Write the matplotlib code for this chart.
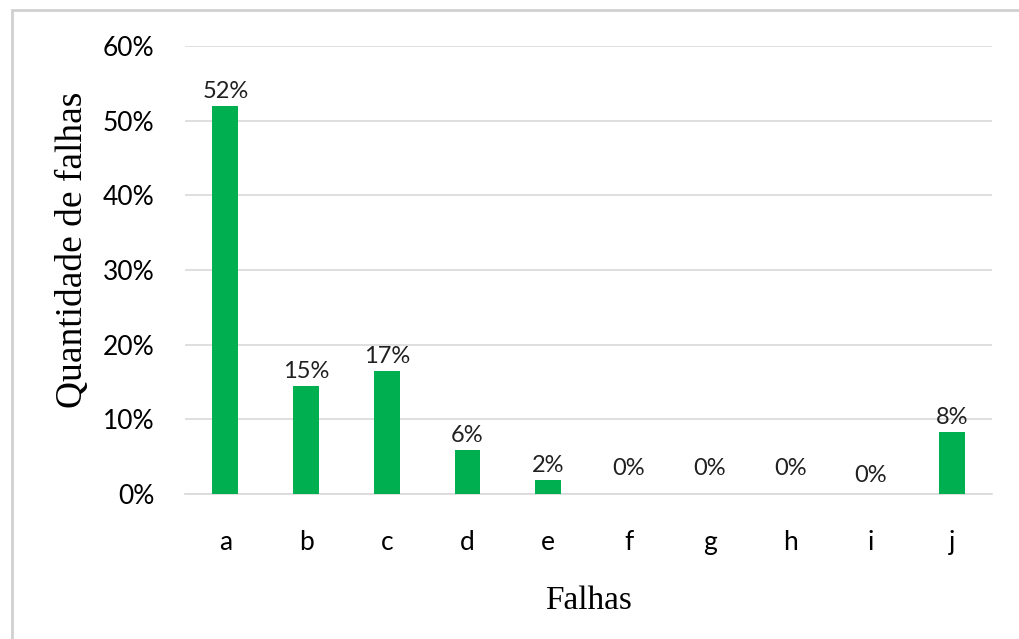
import matplotlib
matplotlib.use("Agg")
import matplotlib.pyplot as plt
from matplotlib.patches import Rectangle
from matplotlib.ticker import FuncFormatter

categories = ["a", "b", "c", "d", "e", "f", "g", "h", "i", "j"]
values = [52.0, 14.5, 16.5, 5.9, 1.9, 0.0, 0.0, 0.0, 0.0, 8.3]
labels = ["52%", "15%", "17%", "6%", "2%", "0%", "0%", "0%", "0%", "8%"]
label_offsets = [3, 3, 3, 3, 3, 11, 11, 11, 6, 3]  # points above bar top

fig = plt.figure(figsize=(10.19, 6.39), dpi=100)
ax = fig.add_axes([185/1019, 1-494/639, (992-185)/1019, (494-46)/639])

x = list(range(len(categories)))
ax.bar(x, values, width=0.32, color="#00B050", zorder=3)
ax.set_xlim(-0.5, 9.5)
ax.set_ylim(0, 60)
ax.set_yticks(range(0, 61, 10))
ax.yaxis.set_major_formatter(FuncFormatter(lambda v, p: f"{int(v)}%"))
ax.set_xticks(x)
ax.set_xticklabels(categories)
ax.grid(axis="y", color="#d9d9d9", linewidth=1.2, zorder=0)
for s in ["top", "right", "left"]:
    ax.spines[s].set_visible(False)
ax.spines["bottom"].set_color("#d9d9d9")
ax.spines["bottom"].set_linewidth(1.2)
ax.tick_params(length=0, labelsize=19, colors="#000000")
for t in ax.get_xticklabels() + ax.get_yticklabels():
    t.set_fontfamily("Lato")
ax.tick_params(axis="x", pad=26)
ax.tick_params(axis="y", pad=22)

for xi, v, lab, off in zip(x, values, labels, label_offsets):
    ax.annotate(lab, (xi, v), xytext=(0, off), textcoords="offset points",
                ha="center", va="bottom", fontsize=17, family="Lato", color="#202020")

ax.set_xlabel("Falhas", fontsize=24, family="Liberation Serif", labelpad=22)
ax.set_ylabel("Quantidade de falhas", fontsize=27, family="Liberation Serif")
ax.yaxis.set_label_coords(-0.118, 0.545)

fig.patches.append(Rectangle((12/1019, -0.1), 1.2, 1.1 - 10/639,
                             transform=fig.transFigure, fill=False,
                             edgecolor="#d0d0d0", linewidth=2))

fig.savefig("out.png", dpi=100)
